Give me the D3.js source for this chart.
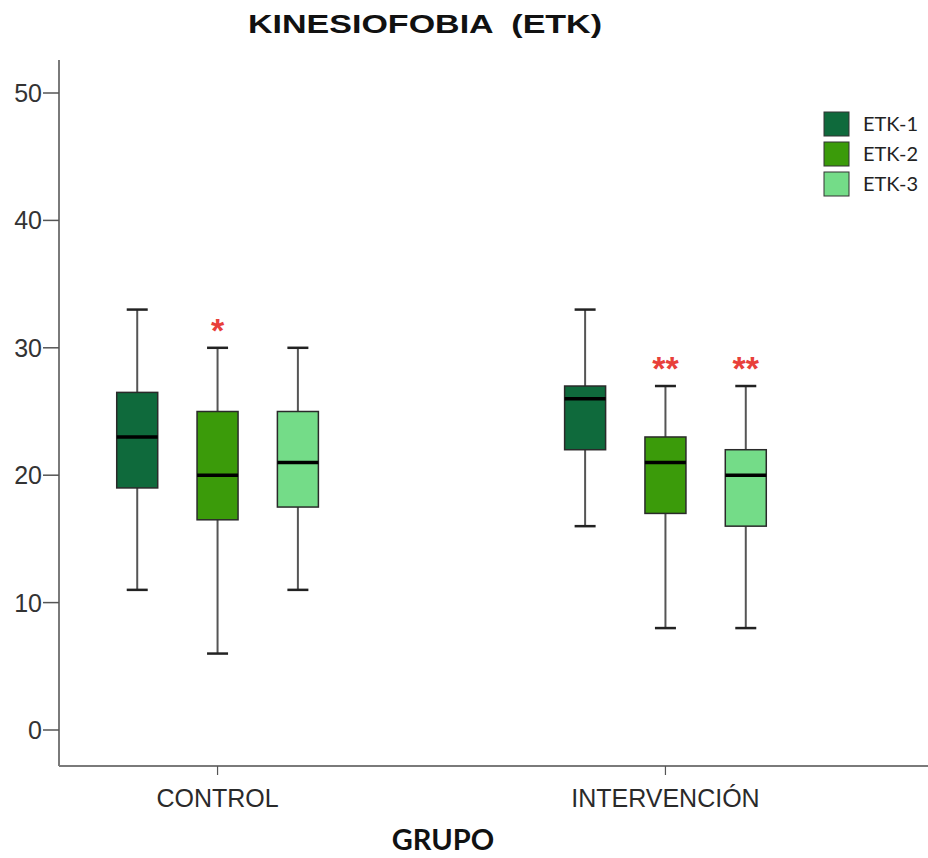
<!DOCTYPE html>
<html>
<head>
<meta charset="utf-8">
<script src="https://cdn.jsdelivr.net/npm/d3@7"></script>
<style>
  body { margin: 0; background: #fff; }
  svg { display: block; }
</style>
</head>
<body>
<svg width="928" height="858"></svg>
<script>
// datos
const grupos = ["CONTROL", "INTERVENCIÓN"];
const series = ["ETK-1", "ETK-2", "ETK-3"];
const colores = ["#0f6a3c", "#3b9b0a", "#74dc88"];
const yTicks = [0, 10, 20, 30, 40, 50];

// una fila por grupo, una columna por serie
const minimo  = [[11, 6, 11], [16, 8, 8]];
const q1      = [[19, 16.5, 17.5], [22, 17, 16]];
const mediana = [[23, 20, 21], [26, 21, 20]];
const q3      = [[26.5, 25, 25], [27, 23, 22]];
const maximo  = [[33, 30, 30], [33, 27, 27]];
const estrellas = [["", "*", ""], ["", "**", "**"]];

const width = 928, height = 858;
const svg = d3.select("svg");

const axisLeft = 59, axisBottom = 766, axisTop = 60;

const y = d3.scaleLinear().domain([0, 50]).range([730, 93]);
const x = d3.scalePoint().domain(grupos).range([59, 824]).padding(0.354);
const xs = d3.scaleBand().domain(series).range([-120.5, 120.5]);
const boxW = 41;

// construir filas
const filas = [];
grupos.forEach((g, i) => {
    series.forEach((s, j) => {
        filas.push({
            g, s, color: colores[j], star: estrellas[i][j],
            min: minimo[i][j], q1: q1[i][j], med: mediana[i][j], q3: q3[i][j], max: maximo[i][j],
            cx: x(g) + xs(s) + xs.bandwidth() / 2
        });
    });
});

// título
svg.append("text")
    .attr("x", 425).attr("y", 33)
    .attr("text-anchor", "middle")
    .attr("font-family", "Liberation Sans, Arial, sans-serif")
    .attr("font-weight", "bold")
    .attr("font-size", 26)
    .attr("fill", "#111")
    .attr("textLength", 354)
    .attr("lengthAdjust", "spacingAndGlyphs")
    .attr("xml:space", "preserve")
    .text("KINESIOFOBIA  (ETK)");

// eje Y
const gy = svg.append("g");
gy.append("line")
    .attr("x1", axisLeft).attr("x2", axisLeft)
    .attr("y1", axisTop).attr("y2", axisBottom)
    .attr("stroke", "#7a7a7a").attr("stroke-width", 2);
gy.selectAll(".tick").data(yTicks).enter().append("line")
    .attr("x1", axisLeft - 16).attr("x2", axisLeft)
    .attr("y1", d => y(d)).attr("y2", d => y(d))
    .attr("stroke", "#555").attr("stroke-width", 1.5);
gy.selectAll(".lab").data(yTicks).enter().append("text")
    .attr("x", axisLeft - 17).attr("y", d => y(d))
    .attr("dy", "0.36em")
    .attr("text-anchor", "end")
    .attr("font-family", "Liberation Sans, Arial, sans-serif")
    .attr("font-size", 25)
    .attr("fill", "#333")
    .text(d => d);

// eje X
const gx = svg.append("g");
gx.append("line")
    .attr("x1", axisLeft).attr("x2", width)
    .attr("y1", axisBottom).attr("y2", axisBottom)
    .attr("stroke", "#7a7a7a").attr("stroke-width", 2);
gx.selectAll(".tick").data(grupos).enter().append("line")
    .attr("x1", d => x(d)).attr("x2", d => x(d))
    .attr("y1", axisBottom).attr("y2", axisBottom + 9)
    .attr("stroke", "#555").attr("stroke-width", 1.2);
gx.selectAll(".lab").data(grupos).enter().append("text")
    .attr("x", d => x(d)).attr("y", 807)
    .attr("text-anchor", "middle")
    .attr("font-family", "Liberation Sans, Arial, sans-serif")
    .attr("font-size", 25)
    .attr("fill", "#2a2a2a")
    .text(d => d);

svg.append("text")
    .attr("x", 443).attr("y", 850)
    .attr("text-anchor", "middle")
    .attr("font-family", "Lato, sans-serif")
    .attr("font-weight", "bold")
    .attr("font-size", 29)
    .attr("fill", "#111")
    .text("GRUPO");

// cajas
const cajas = svg.append("g").selectAll("g").data(filas).enter().append("g");

cajas.append("line")
    .attr("x1", d => d.cx).attr("x2", d => d.cx)
    .attr("y1", d => y(d.max)).attr("y2", d => y(d.q3))
    .attr("stroke", "#555").attr("stroke-width", 2);
cajas.append("line")
    .attr("x1", d => d.cx).attr("x2", d => d.cx)
    .attr("y1", d => y(d.q1)).attr("y2", d => y(d.min))
    .attr("stroke", "#555").attr("stroke-width", 2);
cajas.selectAll(".cap").data(d => [d.min, d.max].map(v => ({ v, cx: d.cx }))).enter().append("line")
    .attr("x1", d => d.cx - 10.5).attr("x2", d => d.cx + 10.5)
    .attr("y1", d => y(d.v)).attr("y2", d => y(d.v))
    .attr("stroke", "#222").attr("stroke-width", 2.5);
cajas.append("rect")
    .attr("x", d => d.cx - boxW / 2)
    .attr("width", boxW)
    .attr("y", d => y(d.q3))
    .attr("height", d => y(d.q1) - y(d.q3))
    .attr("fill", d => d.color)
    .attr("stroke", "#2a2a2a").attr("stroke-width", 1.5);
cajas.append("line")
    .attr("x1", d => d.cx - boxW / 2).attr("x2", d => d.cx + boxW / 2)
    .attr("y1", d => y(d.med)).attr("y2", d => y(d.med))
    .attr("stroke", "#000").attr("stroke-width", 3.5);

// asteriscos
cajas.append("text")
    .attr("x", d => d.cx)
    .attr("y", d => y(d.max) - 6)
    .attr("text-anchor", "middle")
    .attr("font-family", "Liberation Sans, Arial, sans-serif")
    .attr("font-weight", "bold")
    .attr("font-size", 34)
    .attr("fill", "#e8403a")
    .text(d => d.star);

// leyenda
const ley = svg.append("g").attr("transform", "translate(824,112)");
const item = ley.selectAll("g").data(series).enter().append("g")
    .attr("transform", (d, i) => `translate(0,${i * 30})`);
item.append("rect")
    .attr("width", 25).attr("height", 24)
    .attr("fill", (d, i) => colores[i])
    .attr("stroke", "#333").attr("stroke-width", 1);
item.append("text")
    .attr("x", 39).attr("y", 12)
    .attr("dy", "0.36em")
    .attr("font-family", "Lato, sans-serif")
    .attr("font-size", 20)
    .attr("fill", "#222")
    .text(d => d);
</script>
</body>
</html>
